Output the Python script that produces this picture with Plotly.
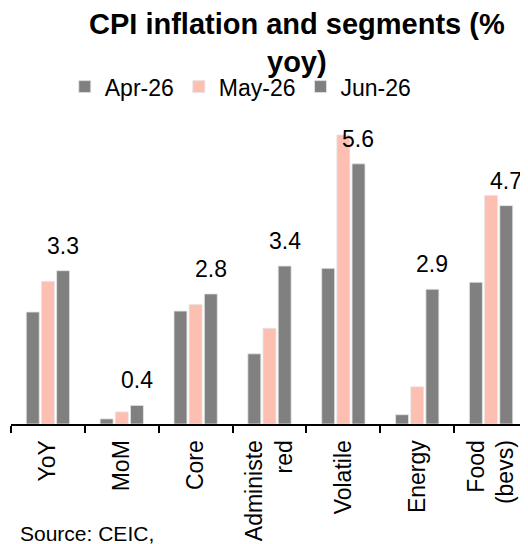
import plotly.graph_objects as go

categories = ["YoY", "MoM", "Core", "Administe<br>red", "Volatile", "Energy", "Food<br>(bevs)"]
apr_26 = [2.41, 0.11, 2.43, 1.51, 3.35, 0.20, 3.05]
may_26 = [3.07, 0.26, 2.57, 2.06, 6.22, 0.80, 4.92]
jun_26 = [3.3, 0.4, 2.8, 3.4, 5.6, 2.9, 4.7]
series_names = ["Apr-26", "May-26", "Jun-26"]
colors = ["#808080", "#FCBFB1", "#808080"]

FONT = "Arial, Liberation Sans, sans-serif"

fig = go.Figure()
for name, vals, col in zip(series_names, [apr_26, may_26, jun_26], colors):
    fig.add_trace(go.Bar(
        x=categories, y=vals, name=name,
        marker=dict(color=col, line=dict(color="#e6e6e6", width=0.8)),
    ))

for c, v in zip(categories, jun_26):
    fig.add_annotation(
        x=c, y=v, xref="x", yref="y", text=f"{v:.1f}", showarrow=False,
        xshift=15, yshift=25, yanchor="middle", xanchor="center",
        font=dict(family=FONT, size=23, color="#000000"),
    )

# title
fig.add_annotation(
    x=0.553, y=1.385, xref="paper", yref="paper", xanchor="center", yanchor="top",
    text="<b>CPI inflation and segments (%<br>yoy)</b>", showarrow=False, align="center",
    font=dict(family=FONT, size=29, color="#000000"),
)

# source note
fig.add_annotation(
    x=0.0135, y=-0.407, xref="paper", yref="paper", yanchor="bottom", xanchor="left",
    text="Source: CEIC,", showarrow=False,
    font=dict(family=FONT, size=21, color="#000000"),
)

fig.update_layout(
    width=520, height=536,
    margin=dict(l=3, r=0, t=114, b=120, autoexpand=False),
    paper_bgcolor="white", plot_bgcolor="white",
    barmode="group", bargap=0.384, bargroupgap=0.145,
    legend=dict(
        orientation="h", x=0.104, xanchor="left", y=1.117, yanchor="middle",
        font=dict(family=FONT, size=23, color="#000000"),
        bgcolor="rgba(0,0,0,0)", itemwidth=30, tracegroupgap=0,
    ),
    showlegend=True,
)
fig.update_xaxes(
    showline=True, linecolor="#000000", linewidth=2,
    ticks="outside", tickson="boundaries", ticklen=7, tickwidth=2, tickcolor="#000000",
    tickangle=-90, tickfont=dict(family=FONT, size=23, color="#000000"),
    ticklabelstandoff=5,
    showgrid=False, automargin=False,
)
fig.update_yaxes(
    range=[0, 6.5], visible=False, showgrid=False, zeroline=False,
)

fig.write_html("out.html")
